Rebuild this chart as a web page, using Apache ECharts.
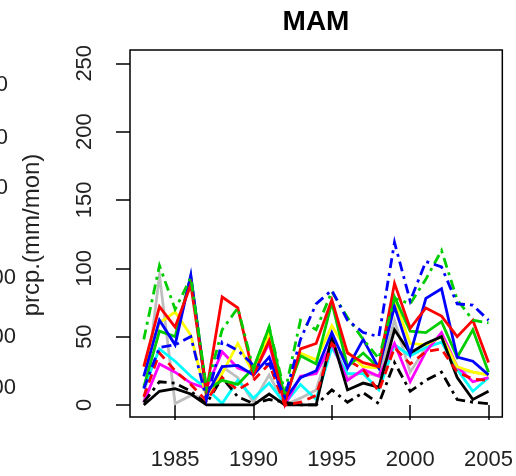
<!DOCTYPE html>
<html><head><meta charset="utf-8">
<script src="https://cdn.jsdelivr.net/npm/echarts@6/dist/echarts.min.js"></script>
<style>html,body{margin:0;padding:0;background:#fff}#c{width:516px;height:476px}</style>
</head><body><div id="c"></div>
<script>
const years = [1983,1984,1985,1986,1987,1988,1989,1990,1991,1992,1993,1994,1995,1996,1997,1998,1999,2000,2001,2002,2003,2004,2005];
const xTicks = [1985,1990,1995,2000,2005];
const yTicks = [0,50,100,150,200,250];
const redSolid   = [28,72,57,88,10,79,71,22,47,1,41,45,77,38,31,28,89,56,71,65,50,62,31];
const greenSolid = [13,54,50,94,11,18,15,27,57,5,36,30,75,28,38,27,79,54,53,61,35,55,24];
const blueSolid  = [21,62,44,95,7,28,29,22,35,4,20,25,53,27,48,27,72,37,78,85,35,32,22];
const cyanSolid  = [12,41,32,21,12,1,18,5,16,1,15,4,42,23,23,11,44,36,42,46,26,10,20];
const magentaSolid = [2,30,24,16,12,39,27,23,45,0,21,23,45,18,26,21,45,17,39,53,28,17,20];
const yellowSolid = [28,60,68,51,6,23,45,23,52,4,38,33,58,39,28,27,77,45,44,50,28,24,22];
const graySolid  = [1,95,1,7,5,28,20,2,22,0,5,11,48,20,24,21,62,24,42,51,26,24,22];
const blackSolid = [0,10,12,8,0,0,0,0,8,0,0,0,50,11,16,13,55,38,45,50,20,4,10];
const redDashed  = [6,38,25,15,3,20,11,18,30,0,2,7,45,33,26,10,42,30,39,41,24,19,18];
const greenDashDot = [48,102,70,93,12,55,71,26,57,9,62,55,83,64,48,34,78,74,92,113,77,62,60];
const blueDashDot  = [12,42,44,50,4,46,40,29,30,6,48,74,84,62,53,50,119,76,105,101,74,73,62];
const blackDashDot = [2,17,16,10,1,20,6,1,4,2,0,0,11,2,9,1,31,10,18,24,4,2,1];

const FONT = "'Liberation Sans', Arial, Helvetica, sans-serif";
const dashDot = [10,5,3,5];
const dashed = [9,6];
function mk(name, data, color, type){
  return {name, type:'line', data: years.map((y,i)=>[y,data[i]]), showSymbol:false, symbol:'none',
    lineStyle:{color, width:2.8, type: type||'solid', cap:'butt', join:'miter'}, itemStyle:{color}, z:2, silent:true};
}
const series = [
  mk('gray', graySolid, '#BEBEBE'),
  mk('cyan', cyanSolid, '#00FFFF'),
  mk('magenta', magentaSolid, '#FF00FF'),
  mk('yellow', yellowSolid, '#FFFF00'),
  mk('black', blackSolid, '#000000'),
  mk('blackdd', blackDashDot, '#000000', dashDot),
  mk('reddash', redDashed, '#FF0000', dashed),
  mk('green', greenSolid, '#00CD00'),
  mk('blue', blueSolid, '#0000FF'),
  mk('red', redSolid, '#FF0000'),
  mk('greendd', greenDashDot, '#00CD00', dashDot),
  mk('bluedd', blueDashDot, '#0000FF', dashDot)
];
const chart = echarts.init(document.getElementById('c'), null, {renderer:'canvas'});
chart.setOption({
  animation:false,
  backgroundColor:'#fff',
  grid:{left:130, top:50, width:373, height:367, show:true, borderColor:'#000', borderWidth:1.5, backgroundColor:'transparent'},
  xAxis:{type:'value', min:1982.12, max:2005.88,
    axisLine:{show:false},
    axisTick:{show:true, customValues:xTicks, length:15, lineStyle:{color:'#000', width:1.5}},
    axisLabel:{customValues:xTicks, fontSize:22, color:'#222', fontFamily:FONT, margin:32, formatter:v=>String(v)},
    splitLine:{show:false}},
  yAxis:{type:'value', min:-8.8, max:259.7,
    axisLine:{show:false},
    axisTick:{show:true, customValues:yTicks, length:14, lineStyle:{color:'#000', width:1.5}},
    axisLabel:{customValues:yTicks, fontSize:22, color:'#222', fontFamily:FONT, rotate:90, margin:34, formatter:v=>String(v)},
    splitLine:{show:false}},
  graphic:[
    {type:'text', x:316, y:22, style:{text:'MAM', fontSize:28, fontWeight:'bold', fontFamily:FONT, fill:'#000', textAlign:'center', textVerticalAlign:'middle'}},
    {type:'text', x:32, y:235, rotation:Math.PI/2, style:{text:'prcp.(mm/mon)', fontSize:24, fontFamily:FONT, fill:'#222', textAlign:'center', textVerticalAlign:'middle'}},
    {type:'text', x:8, y:85, style:{text:'0', fontSize:22, fontFamily:FONT, fill:'#222', textAlign:'right', textVerticalAlign:'middle'}},
    {type:'text', x:8, y:138, style:{text:'0', fontSize:22, fontFamily:FONT, fill:'#222', textAlign:'right', textVerticalAlign:'middle'}},
    {type:'text', x:8, y:188, style:{text:'0', fontSize:22, fontFamily:FONT, fill:'#222', textAlign:'right', textVerticalAlign:'middle'}},
    {type:'text', x:16, y:278, style:{text:'00', fontSize:22, fontFamily:FONT, fill:'#222', textAlign:'right', textVerticalAlign:'middle'}},
    {type:'text', x:16, y:337, style:{text:'00', fontSize:22, fontFamily:FONT, fill:'#222', textAlign:'right', textVerticalAlign:'middle'}},
    {type:'text', x:16, y:388, style:{text:'00', fontSize:22, fontFamily:FONT, fill:'#222', textAlign:'right', textVerticalAlign:'middle'}}
  ],
  series
});
</script></body></html>
